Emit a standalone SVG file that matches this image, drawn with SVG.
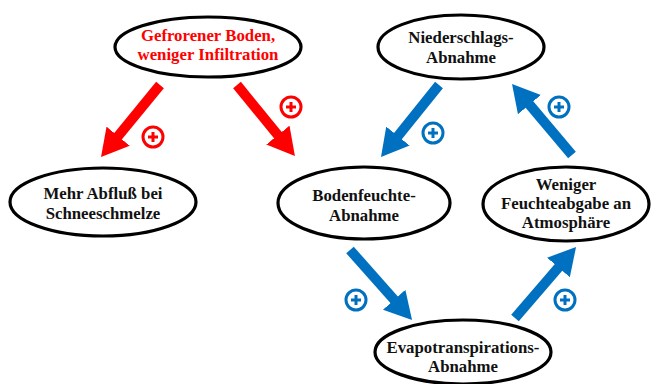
<svg xmlns="http://www.w3.org/2000/svg" width="660" height="384" viewBox="0 0 660 384">
<style>
.node{fill:#fff;stroke:#000;stroke-width:3.2}
.t{font-family:"Liberation Serif","Times New Roman",serif;font-weight:bold;font-size:16.8px;text-anchor:middle;fill:#111}
.red{fill:#FF0000}
.ar{stroke-width:10;fill:none}
.pl{fill:#fff;stroke-width:3}
</style>
<defs>
<marker id="hr" markerUnits="userSpaceOnUse" viewBox="0 -15 27 30" markerWidth="27" markerHeight="30" refX="1" refY="0" orient="auto"><path d="M0,-15 L27,0 L0,15 z" fill="#FF0000"/></marker>
<marker id="hb" markerUnits="userSpaceOnUse" viewBox="0 -15 27 30" markerWidth="27" markerHeight="30" refX="1" refY="0" orient="auto"><path d="M0,-15 L27,0 L0,15 z" fill="#0070C0"/></marker>
<g id="plusR"><circle r="10" class="pl" stroke="#FF0000"/><path d="M-5,0H5M0,-5V5" stroke="#FF0000" stroke-width="3"/></g>
<g id="plusB"><circle r="10" class="pl" stroke="#0070C0"/><path d="M-5,0H5M0,-5V5" stroke="#0070C0" stroke-width="3"/></g>
</defs>
<rect width="660" height="384" fill="#fff"/>
<g id="connectors">
<line class="ar" stroke="#FF0000" x1="160" y1="85" x2="117.5" y2="136.9" marker-end="url(#hr)"/>
<line class="ar" stroke="#FF0000" x1="237" y1="85" x2="278.5" y2="135.9" marker-end="url(#hr)"/>
<line class="ar" stroke="#0070C0" x1="439" y1="85" x2="397.3" y2="136.8" marker-end="url(#hb)"/>
<line class="ar" stroke="#0070C0" x1="572" y1="155" x2="528.8" y2="103.8" marker-end="url(#hb)"/>
<line class="ar" stroke="#0070C0" x1="350" y1="250" x2="394.8" y2="300.5" marker-end="url(#hb)"/>
<line class="ar" stroke="#0070C0" x1="515" y1="318" x2="559.1" y2="266.7" marker-end="url(#hb)"/>
<use href="#plusR" x="153" y="137"/>
<use href="#plusR" x="291" y="107"/>
<use href="#plusB" x="433" y="133"/>
<use href="#plusB" x="559" y="107"/>
<use href="#plusB" x="356" y="300"/>
<use href="#plusB" x="565" y="300"/>
</g>
<g id="gefroren">
<ellipse class="node" cx="208" cy="47" rx="93" ry="30"/>
<text class="t red" x="208" y="41">Gefrorener Boden,</text>
<text class="t red" x="208" y="60">weniger Infiltration</text>
</g>
<g id="niederschlag">
<ellipse class="node" cx="461" cy="47" rx="83" ry="32"/>
<text class="t" x="461" y="43">Niederschlags-</text>
<text class="t" x="461" y="63">Abnahme</text>
</g>
<g id="abfluss">
<ellipse class="node" cx="103" cy="202" rx="93" ry="34"/>
<text class="t" x="103" y="199">Mehr Abfluß bei</text>
<text class="t" x="103" y="219">Schneeschmelze</text>
</g>
<g id="bodenfeuchte">
<ellipse class="node" cx="364" cy="203" rx="86" ry="36"/>
<text class="t" x="364" y="201">Bodenfeuchte-</text>
<text class="t" x="364" y="221">Abnahme</text>
</g>
<g id="feuchteabgabe">
<ellipse class="node" cx="566" cy="204" rx="83" ry="37"/>
<text class="t" x="566" y="190">Weniger</text>
<text class="t" x="566" y="209">Feuchteabgabe an</text>
<text class="t" x="566" y="228">Atmosphäre</text>
</g>
<g id="evapo">
<ellipse class="node" cx="463" cy="352" rx="88" ry="32"/>
<text class="t" x="463" y="353">Evapotranspirations-</text>
<text class="t" x="463" y="372">Abnahme</text>
</g>
</svg>
